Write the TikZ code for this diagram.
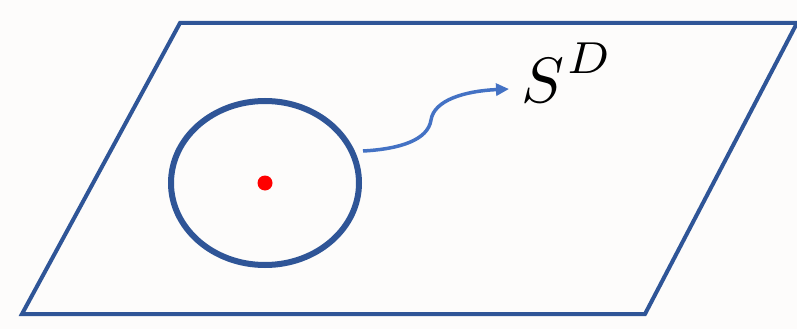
\documentclass[tikz,border=0pt]{standalone}
\usepackage{graphicx}
\usetikzlibrary{shapes.geometric,arrows.meta}
\definecolor{planeblue}{RGB}{47,85,151}
\definecolor{arrowblue}{RGB}{68,114,196}
\definecolor{bgcol}{RGB}{253,252,251}
\begin{document}
\begin{tikzpicture}[x=1pt,y=-1pt,
  planeline/.style={draw=planeblue,line width=4pt,line join=miter},
  ringstyle/.style={ellipse,draw=planeblue,line width=6pt,minimum width=188pt,minimum height=164pt,inner sep=0pt},
  dotstyle/.style={circle,fill=red,minimum size=15pt,inner sep=0pt},
  curvearrow/.style={draw=arrowblue,line width=3.5pt,-{Triangle[length=13pt,width=12pt]}}]
\path[fill=bgcol] (0,0) rectangle (797,329);
\useasboundingbox (0,0) rectangle (797,329);
\coordinate (tl) at (180,23);
\coordinate (tr) at (797,23);
\coordinate (br) at (645,314);
\coordinate (bl) at (22,314);
\draw[planeline] (tl) -- (tr) -- (br) -- (bl) -- cycle;
\node[ringstyle] (ring) at (265,183) {};
\node[dotstyle] (dot) at (265,183) {};
\coordinate (astart) at (363,151);
\coordinate (amid) at (431,120);
\node[anchor=base west,inner sep=0pt] (label) at (521,102) {\scalebox{6.4}{$S\kern0.4pt\raisebox{4.4pt}{$\scriptstyle D$}$}};
\coordinate (aend) at (509,89);
\draw[curvearrow] (astart) .. controls (400,149) and (428,140) .. (amid) .. controls (434,100) and (465,91) .. (aend);
\end{tikzpicture}
\end{document}
